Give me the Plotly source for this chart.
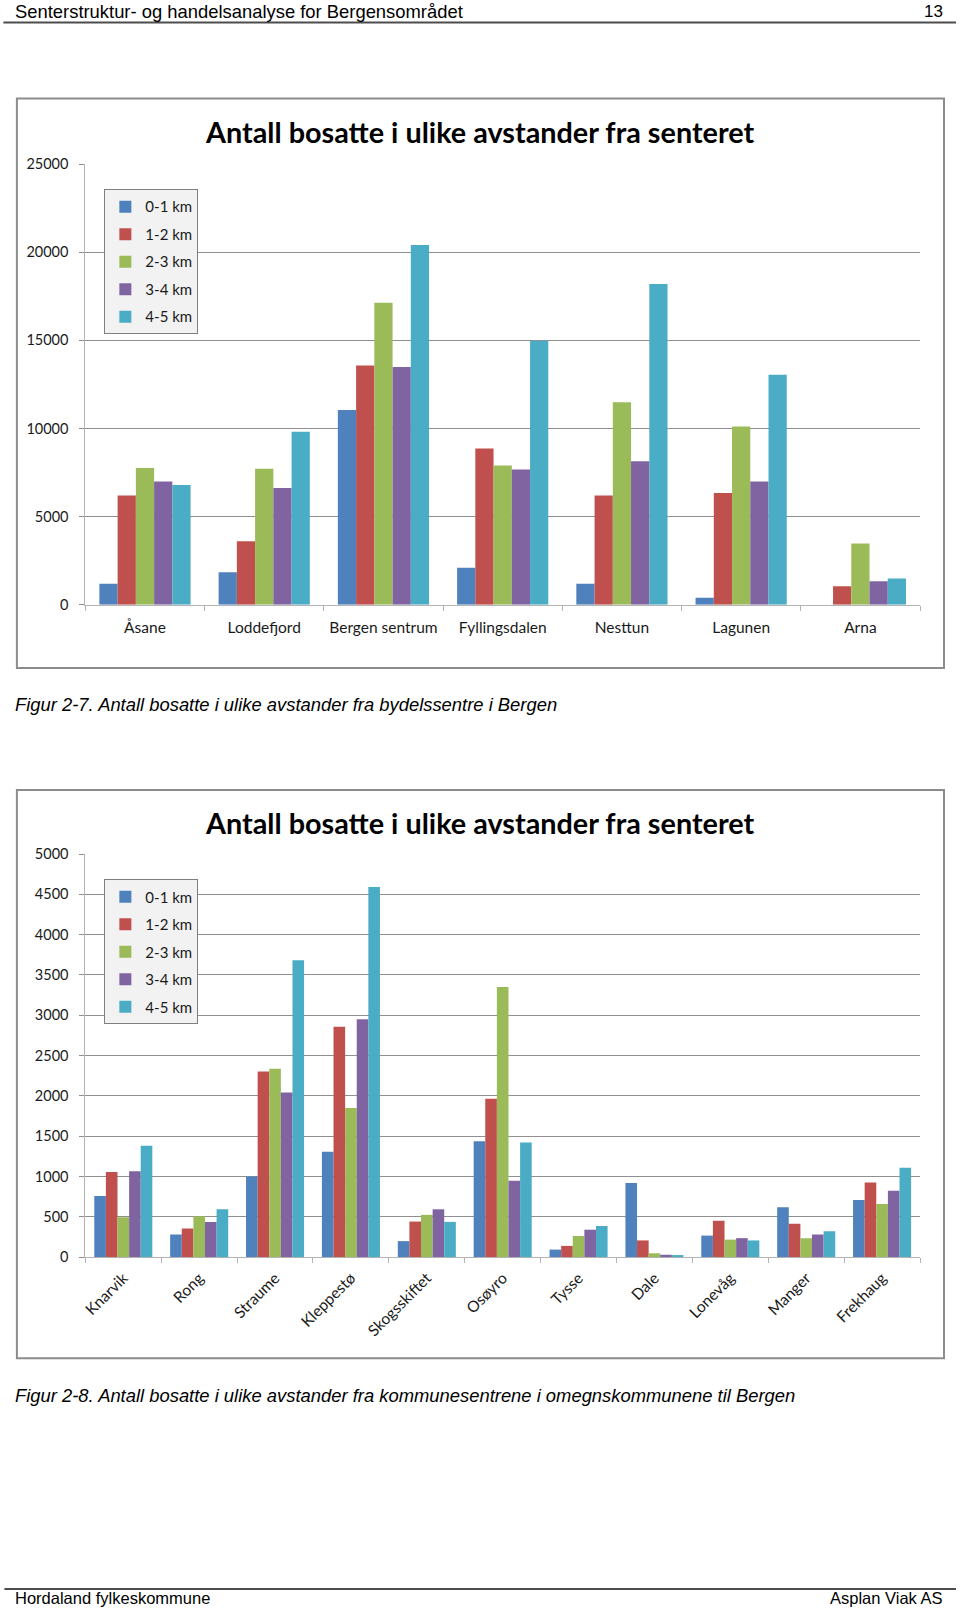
import plotly.graph_objects as go

# ---------------- data ----------------
series_names = ["0-1 km", "1-2 km", "2-3 km", "3-4 km", "4-5 km"]
series_colors = ["#4F81BD", "#C0504D", "#9BBB59", "#8064A2", "#4BACC6"]

centres_bergen = ["Åsane", "Loddefjord", "Bergen sentrum", "Fyllingsdalen", "Nesttun", "Lagunen", "Arna"]
bergen_0_1 = [1200, 1850, 11050, 2100, 1200, 400, 0]
bergen_1_2 = [6200, 3600, 13570, 8870, 6200, 6350, 1050]
bergen_2_3 = [7760, 7720, 17140, 7900, 11490, 10110, 3480]
bergen_3_4 = [6990, 6630, 13490, 7680, 8140, 7000, 1340]
bergen_4_5 = [6800, 9820, 20410, 14980, 18200, 13050, 1490]

centres_omegn = ["Knarvik", "Rong", "Straume", "Kleppestø", "Skogsskiftet", "Osøyro",
                 "Tysse", "Dale", "Lonevåg", "Manger", "Frekhaug"]
omegn_0_1 = [757, 280, 1000, 1307, 197, 1436, 92, 917, 266, 619, 708]
omegn_1_2 = [1055, 353, 2303, 2858, 440, 1963, 138, 206, 450, 413, 925]
omegn_2_3 = [495, 505, 2335, 1849, 523, 3349, 261, 46, 216, 234, 658]
omegn_3_4 = [1064, 436, 2041, 2950, 592, 945, 339, 28, 234, 280, 821]
omegn_4_5 = [1381, 592, 3683, 4592, 436, 1422, 385, 14, 206, 321, 1108]

y1_ticks = [0, 5000, 10000, 15000, 20000, 25000]
y2_ticks = [0, 500, 1000, 1500, 2000, 2500, 3000, 3500, 4000, 4500, 5000]

chart_title = "Antall bosatte i ulike avstander fra senteret"
header_left = "Senterstruktur- og handelsanalyse for Bergensområdet"
header_right = "13"
footer_left = "Hordaland fylkeskommune"
footer_right = "Asplan Viak AS"
caption1 = "Figur 2-7. Antall bosatte i ulike avstander fra bydelssentre i Bergen"
caption2 = "Figur 2-8. Antall bosatte i ulike avstander fra kommunesentrene i omegnskommunene til Bergen"

# ---------------- figure ----------------
W, H = 960, 1609
RH, TOP = 1593.0, 8.0    # effective rendered height / offset observed in the page
RW, LEFT = 956.4, 3.6    # effective rendered width / offset observed in the page


def fx(px):
    return (px - LEFT) / RW


def fy(py):
    return 1 - (py - TOP) / RH


fig = go.Figure()

bergen_series = [bergen_0_1, bergen_1_2, bergen_2_3, bergen_3_4, bergen_4_5]
omegn_series = [omegn_0_1, omegn_1_2, omegn_2_3, omegn_3_4, omegn_4_5]

for i, (name, vals) in enumerate(zip(series_names, bergen_series)):
    fig.add_trace(go.Bar(x=centres_bergen, y=vals, name=name, marker_color=series_colors[i],
                         marker_line_width=0, xaxis="x", yaxis="y",
                         legend="legend", legendgroup="a%d" % i))
for i, (name, vals) in enumerate(zip(series_names, omegn_series)):
    fig.add_trace(go.Bar(x=centres_omegn, y=vals, name=name, marker_color=series_colors[i],
                         marker_line_width=0, xaxis="x2", yaxis="y2",
                         legend="legend2", legendgroup="b%d" % i))

chart_font = "Lato, 'Open Sans', sans-serif"
page_font = "'Liberation Sans', Arial, sans-serif"
grid_col = "#8f8f8f"
axis_col = "#b3b3b3"
tick_font = dict(family=chart_font, size=14.5, color="#1a1a1a")
cat_font = dict(family=chart_font, size=15.5, color="#1a1a1a")

xdom = [fx(85), fx(920)]
common_x = dict(domain=xdom, showgrid=False, showline=True, linecolor=axis_col, linewidth=1,
                ticks="outside", tickson="boundaries", ticklen=5, tickcolor=axis_col,
                tickfont=cat_font, fixedrange=True)
common_y = dict(showgrid=True, gridcolor=grid_col, gridwidth=1, showline=True, linecolor=axis_col,
                linewidth=1, ticks="outside", ticklen=5, tickcolor=grid_col, tickfont=tick_font,
                zeroline=False, fixedrange=True, ticklabelstandoff=8, tickformat="d")

fig.update_layout(
    width=W, height=H,
    margin=dict(l=0, r=0, t=0, b=0),
    paper_bgcolor="white", plot_bgcolor="white",
    barmode="group", bargap=0.235, bargroupgap=0,
    showlegend=True,
    xaxis=dict(common_x, anchor="y", ticklabelstandoff=9),
    yaxis=dict(common_y, anchor="x", domain=[fy(604.2), fy(163.2)], range=[0, 25000],
               tickvals=y1_ticks),
    xaxis2=dict(common_x, anchor="y2", tickangle=-45, ticklabelstandoff=5),
    yaxis2=dict(common_y, anchor="x2", domain=[fy(1256.8), fy(853.6)], range=[0, 5000],
                tickvals=y2_ticks),
    legend=dict(x=fx(104), y=fy(188.5), xanchor="left", yanchor="top",
                bgcolor="#f2f2f2", bordercolor="#7f7f7f", borderwidth=1,
                font=dict(family=chart_font, size=15, color="#1a1a1a"),
                tracegroupgap=5, itemwidth=30),
    legend2=dict(x=fx(104), y=fy(879), xanchor="left", yanchor="top",
                 bgcolor="#f2f2f2", bordercolor="#7f7f7f", borderwidth=1,
                 font=dict(family=chart_font, size=15, color="#1a1a1a"),
                 tracegroupgap=5, itemwidth=30),
)

shapes = []
# chart frames
for top, bottom in [(97.5, 667.5), (789.5, 1358)]:
    shapes.append(dict(type="rect", xref="paper", yref="paper", x0=fx(16.5), x1=fx(944),
                       y0=fy(bottom), y1=fy(top), line=dict(color="#8c8c8c", width=2),
                       layer="below"))
# header / footer rules
shapes.append(dict(type="line", xref="paper", yref="paper", x0=fx(3), x1=fx(956),
                   y0=fy(21.5), y1=fy(21.5), line=dict(color="#4d4d4d", width=2)))
shapes.append(dict(type="line", xref="paper", yref="paper", x0=fx(4), x1=fx(956),
                   y0=fy(1589), y1=fy(1589), line=dict(color="#4d4d4d", width=2)))
fig.update_layout(shapes=shapes)

ann = []


def add_text(text, x, y, size, family, xanchor="left", bold=False, italic=False, color="#000"):
    t = text
    if bold:
        t = "<b>%s</b>" % t
    if italic:
        t = "<i>%s</i>" % t
    ann.append(dict(text=t, xref="paper", yref="paper", x=fx(x), y=fy(y), xanchor=xanchor,
                    yanchor="middle", showarrow=False,
                    font=dict(family=family, size=size, color=color)))


add_text(header_left, 13, 10.5, 18.4, page_font)
add_text(header_right, 945, 10.5, 17, page_font, xanchor="right")
add_text(footer_left, 13, 1598, 16.5, page_font)
add_text(footer_right, 945, 1598, 16.5, page_font, xanchor="right")
add_text(caption1, 13, 704, 18.4, page_font, italic=True)
add_text(caption2, 13, 1395, 18.4, page_font, italic=True)
add_text(chart_title, 479, 131.5, 28.8, chart_font, xanchor="center", bold=True)
add_text(chart_title, 479, 822.5, 28.8, chart_font, xanchor="center", bold=True)
fig.update_layout(annotations=ann)

fig.write_html("out.html")
